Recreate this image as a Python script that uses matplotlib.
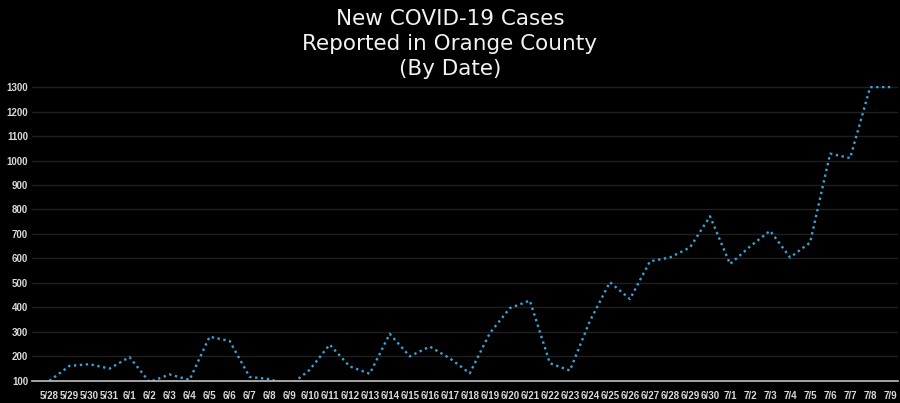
import matplotlib
matplotlib.use("Agg")
import matplotlib.pyplot as plt

# datas e casos novos
datas = ["5/28", "5/29", "5/30", "5/31",
         "6/1", "6/2", "6/3", "6/4", "6/5", "6/6", "6/7", "6/8", "6/9", "6/10",
         "6/11", "6/12", "6/13", "6/14", "6/15", "6/16", "6/17", "6/18", "6/19", "6/20",
         "6/21", "6/22", "6/23", "6/24", "6/25", "6/26", "6/27", "6/28", "6/29", "6/30",
         "7/1", "7/2", "7/3", "7/4", "7/5", "7/6", "7/7", "7/8", "7/9"]
casos = [100, 161, 168, 150,
         197, 95, 126, 104, 280, 263, 116, 107, 80, 145,
         248, 159, 129, 292, 200, 240, 192, 131, 295, 397,
         428, 172, 142, 345, 503, 434, 588, 604, 645, 772,
         577, 649, 713, 604, 665, 1028, 1010, 1300, 1300]
y_ticks = list(range(100, 1400, 100))

plt.rcParams['font.family'] = ['Liberation Sans', 'DejaVu Sans']

fig = plt.figure(figsize=(9, 4.03), dpi=100, facecolor='black')
eixo = fig.add_axes([0.036, 0.055, 0.962, 0.7326])
eixo.set_facecolor('black')

x = list(range(len(datas)))
eixo.plot(x, casos, color='#3ba3d4', linestyle=(0, (1, 1.5)), linewidth=1.7)

eixo.set_ylim(100, 1306)
eixo.set_xlim(-0.85, len(datas) - 1 + 0.4)
eixo.set_yticks(y_ticks)
eixo.set_xticks(x)
eixo.set_xticklabels(datas)
eixo.yaxis.grid(True, color='#1f1f1f', linewidth=1)
eixo.set_axisbelow(True)
eixo.tick_params(axis='both', length=0, colors='#d9d9d9', labelsize=7)
eixo.tick_params(axis='x', pad=7)
eixo.tick_params(axis='y', pad=3)
for t in eixo.get_xticklabels() + eixo.get_yticklabels():
    t.set_fontweight('bold')

for lado in ['top', 'right', 'left']:
    eixo.spines[lado].set_visible(False)
eixo.spines['bottom'].set_color('#bfbfbf')
eixo.spines['bottom'].set_linewidth(1.2)

fig.text(0.5, 0.978, "New COVID-19 Cases\nReported in Orange County\n(By Date)",
         ha='center', va='top', color='#f2f2f2', fontsize=15.5, linespacing=1.32,
         family='DejaVu Sans')

fig.savefig("out.png", dpi=100, facecolor='black')
